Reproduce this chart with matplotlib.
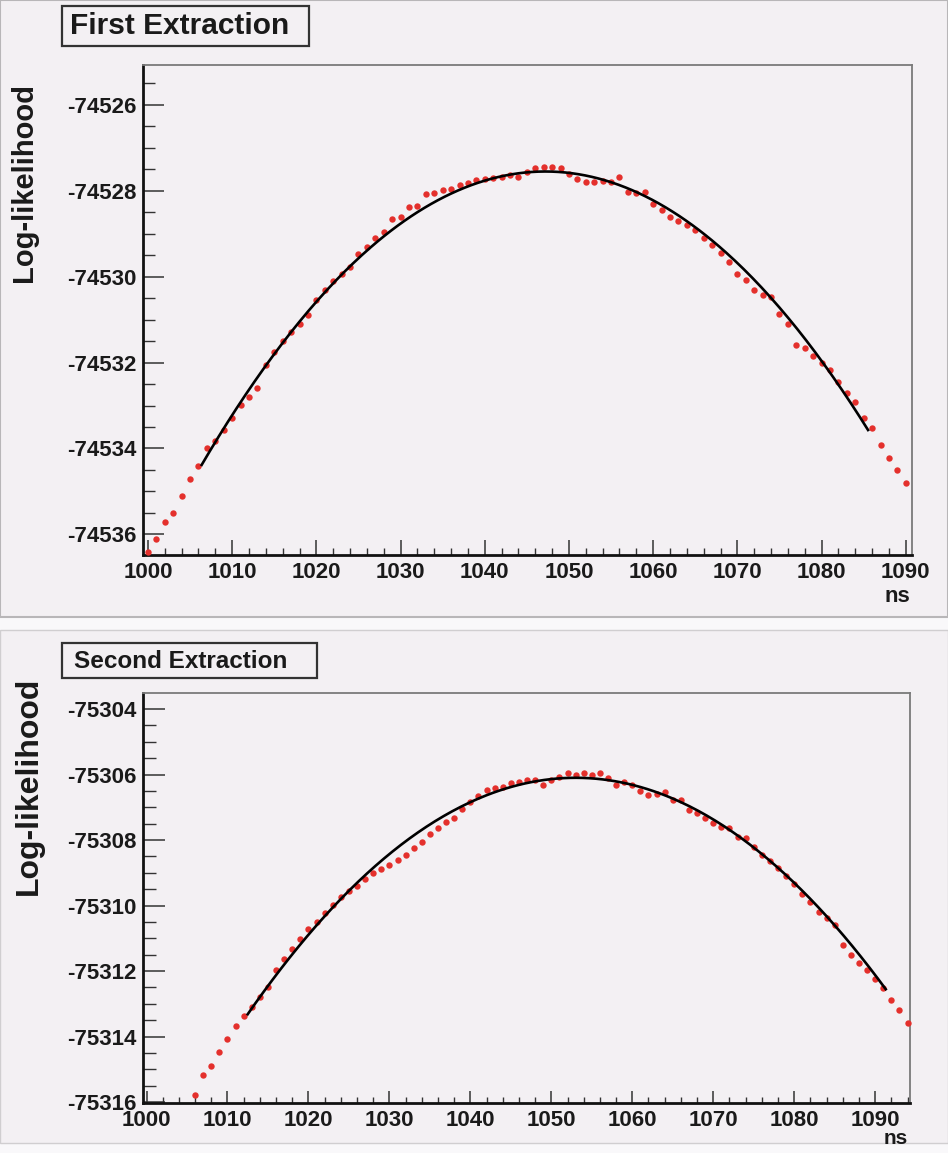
import matplotlib
matplotlib.use("Agg")
import matplotlib.pyplot as plt
import numpy as np
from matplotlib.patches import Rectangle
from matplotlib.ticker import MultipleLocator, FormatStrFormatter

plt.rcParams['font.family'] = ['Liberation Sans', 'DejaVu Sans']
plt.rcParams['axes.unicode_minus'] = False

# ---------------- data ----------------
titles = ["First Extraction", "Second Extraction"]
ylabel = "Log-likelihood"
xlabel = "ns"

x1_start = 1000
ll1 = [
    -74536.42, -74536.10, -74535.70, -74535.50, -74535.10, -74534.70, -74534.40, -74533.98,
    -74533.82, -74533.56, -74533.28, -74532.98, -74532.80, -74532.60, -74532.06, -74531.75,
    -74531.50, -74531.28, -74531.10, -74530.90, -74530.55, -74530.31, -74530.10, -74529.93,
    -74529.77, -74529.46, -74529.30, -74529.11, -74528.95, -74528.65, -74528.60, -74528.38,
    -74528.35, -74528.07, -74528.06, -74527.99, -74527.95, -74527.87, -74527.82, -74527.75,
    -74527.72, -74527.70, -74527.68, -74527.62, -74527.68, -74527.55, -74527.48, -74527.45,
    -74527.45, -74527.48, -74527.60, -74527.72, -74527.79, -74527.79, -74527.78, -74527.80,
    -74527.68, -74528.03, -74528.05, -74528.03, -74528.30, -74528.45, -74528.61, -74528.70,
    -74528.80, -74528.92, -74529.10, -74529.25, -74529.45, -74529.65, -74529.93, -74530.08,
    -74530.31, -74530.43, -74530.47, -74530.86, -74531.10, -74531.59, -74531.67, -74531.85,
    -74532.00, -74532.17, -74532.45, -74532.70, -74532.91, -74533.30, -74533.53, -74533.92,
    -74534.23, -74534.50, -74534.81,
]

x2_start = 1006
ll2 = [
    -75315.79, -75315.18, -75314.89, -75314.48, -75314.09, -75313.68, -75313.37, -75313.09,
    -75312.80, -75312.50, -75311.97, -75311.64, -75311.34, -75311.03, -75310.73, -75310.49,
    -75310.22, -75309.98, -75309.75, -75309.55, -75309.40, -75309.20, -75309.00, -75308.88,
    -75308.75, -75308.62, -75308.46, -75308.25, -75308.05, -75307.83, -75307.62, -75307.45,
    -75307.32, -75307.05, -75306.85, -75306.65, -75306.47, -75306.42, -75306.37, -75306.27,
    -75306.22, -75306.17, -75306.17, -75306.32, -75306.17, -75306.07, -75305.96, -75306.00,
    -75305.96, -75306.00, -75305.96, -75306.12, -75306.32, -75306.22, -75306.32, -75306.50,
    -75306.63, -75306.58, -75306.53, -75306.78, -75306.78, -75307.08, -75307.18, -75307.34,
    -75307.49, -75307.59, -75307.64, -75307.90, -75307.95, -75308.20, -75308.45, -75308.65,
    -75308.85, -75309.10, -75309.35, -75309.65, -75309.90, -75310.20, -75310.39, -75310.60,
    -75311.21, -75311.51, -75311.77, -75311.97, -75312.25, -75312.53, -75312.89, -75313.19,
    -75313.60,
]

# parabolic fit parameters (peak position, peak value, curvature, fit range)
fit1_peak_x, fit1_peak_y, fit1_curv, fit1_range = 1047.2, -74527.55, 0.0041, (1006.3, 1085.6)
fit2_peak_x, fit2_peak_y, fit2_curv, fit2_range = 1053.0, -75306.10, 0.0044, (1012.4, 1091.4)

xlim1 = (999.45, 1090.7)
ylim1 = (-74536.48, -74525.07)
xlim2 = (999.6, 1094.3)
ylim2 = (-75316.03, -75303.52)

# ---------------- figure ----------------
W, H = 948, 1153
PAD = '#f3f0f3'
fig = plt.figure(figsize=(W / 100, H / 100), dpi=100, facecolor='#f9f8fa')

def fx(px):
    return px / W

def fy(py):
    return 1 - py / H

# pads (behind everything)
fig.patches.append(Rectangle((0, fy(617)), 1, fy(0) - fy(617), transform=fig.transFigure,
                             facecolor=PAD, edgecolor='#b8b6b8', lw=1.5, zorder=-10))
fig.patches.append(Rectangle((0, fy(1143)), 1, fy(630) - fy(1143), transform=fig.transFigure,
                             facecolor=PAD, edgecolor='#d0ced0', lw=1.0, zorder=-10))

def make_axes(left, top, right, bottom):
    ax = fig.add_axes([fx(left), fy(bottom), fx(right) - fx(left), fy(top) - fy(bottom)])
    ax.set_facecolor(PAD)
    ax.set_zorder(1)
    return ax

ax1 = make_axes(143.3, 65, 911.7, 555)
ax2 = make_axes(143.3, 693.3, 910, 1103)

def style_axes(ax, xlim, ylim, ymaj_len, ymin_len, xmaj_len, xmin_len):
    ax.set_xlim(*xlim)
    ax.set_ylim(*ylim)
    ax.xaxis.set_major_locator(MultipleLocator(10))
    ax.xaxis.set_minor_locator(MultipleLocator(2))
    ax.yaxis.set_major_locator(MultipleLocator(2))
    ax.yaxis.set_minor_locator(MultipleLocator(0.5))
    ax.xaxis.set_major_formatter(FormatStrFormatter('%d'))
    ax.yaxis.set_major_formatter(FormatStrFormatter('%d'))
    ax.tick_params(axis='y', which='major', direction='in', length=ymaj_len, width=1.1,
                   color='#333333', labelsize=16, pad=5)
    ax.tick_params(axis='y', which='minor', direction='in', length=ymin_len, width=1.0,
                   color='#333333')
    ax.tick_params(axis='x', which='major', direction='in', length=xmaj_len, width=1.1,
                   color='#333333', labelsize=16, pad=5)
    ax.tick_params(axis='x', which='minor', direction='in', length=xmin_len, width=1.0,
                   color='#333333')
    for lab in ax.get_xticklabels() + ax.get_yticklabels():
        lab.set_fontweight('bold')
        lab.set_color('#1a1a1a')
    ax.spines['left'].set_linewidth(2.0)
    ax.spines['left'].set_color('#111111')
    ax.spines['bottom'].set_linewidth(2.0)
    ax.spines['bottom'].set_color('#111111')
    for s in ('top', 'right'):
        ax.spines[s].set_linewidth(1.3)
        ax.spines[s].set_color('#7a7a7a')

style_axes(ax1, xlim1, ylim1, 15, 8.5, 10.5, 5)
style_axes(ax2, xlim2, ylim2, 15.5, 9, 8.5, 4.5)

def draw(ax, x_start, ll, peak_x, peak_y, curv, frange):
    x = np.arange(x_start, x_start + len(ll))
    ax.plot(x, ll, linestyle='none', marker='o', markersize=4.6, color='#e4302c',
            markeredgewidth=0, zorder=3, clip_on=False)
    xf = np.linspace(frange[0], frange[1], 300)
    yf = peak_y - curv * (xf - peak_x) ** 2
    ax.plot(xf, yf, color='black', lw=1.9, zorder=4, solid_capstyle='butt')

draw(ax1, x1_start, ll1, fit1_peak_x, fit1_peak_y, fit1_curv, fit1_range)
draw(ax2, x2_start, ll2, fit2_peak_x, fit2_peak_y, fit2_curv, fit2_range)

# title boxes
fig.patches.append(Rectangle((fx(62), fy(46)), fx(309) - fx(62), fy(6) - fy(46),
                             transform=fig.transFigure, facecolor=PAD, edgecolor='#333333',
                             lw=1.6, zorder=5))
fig.text(fx(70), fy(26.5), titles[0], fontsize=21.5, fontweight='bold', color='#1a1a1a',
         ha='left', va='center', zorder=6)
fig.patches.append(Rectangle((fx(62), fy(678)), fx(317) - fx(62), fy(643) - fy(678),
                             transform=fig.transFigure, facecolor=PAD, edgecolor='#333333',
                             lw=1.6, zorder=5))
fig.text(fx(74), fy(661), titles[1], fontsize=17.5, fontweight='bold', color='#1a1a1a',
         ha='left', va='center', zorder=6)

# y labels
fig.text(fx(24), fy(182), ylabel, rotation=90, fontsize=21, fontweight='bold',
         color='#1a1a1a', ha='center', va='center')
fig.text(fx(29), fy(786), ylabel, rotation=90, fontsize=23, fontweight='bold',
         color='#1a1a1a', ha='center', va='center')

# x labels
fig.text(fx(897), fy(596), xlabel, fontsize=16, fontweight='bold', color='#1a1a1a',
         ha='center', va='center')
fig.text(fx(896), fy(1139), xlabel, fontsize=15, fontweight='bold', color='#1a1a1a',
         ha='center', va='center')

fig.savefig('out.png', dpi=100, facecolor=fig.get_facecolor())
